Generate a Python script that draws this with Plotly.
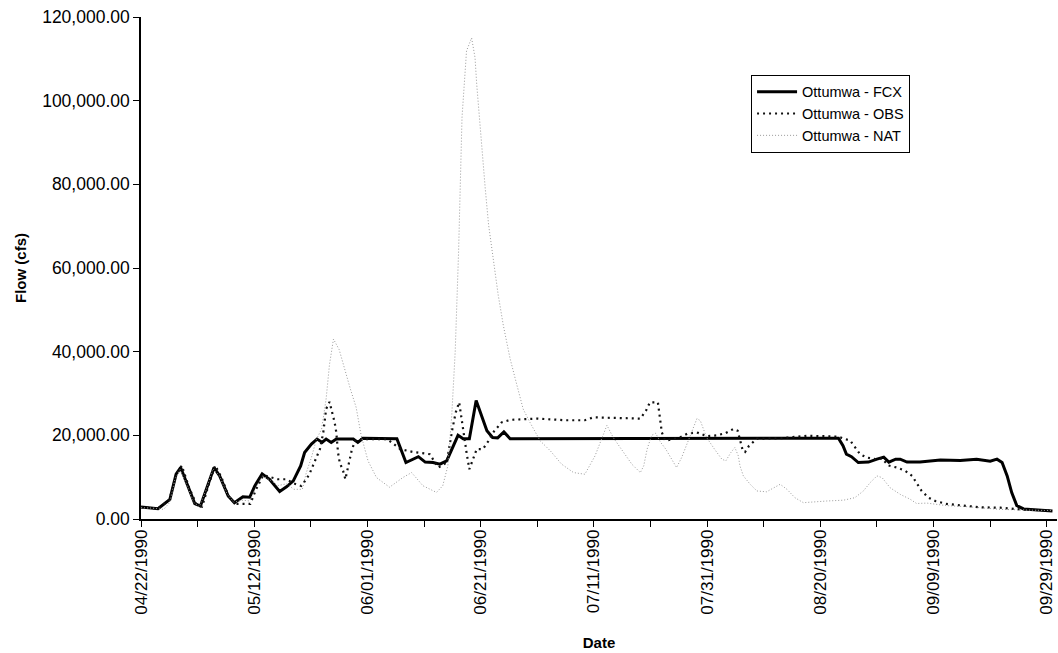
import pandas as pd
import plotly.graph_objects as go

start_date = "1990-04-22"

# Day offsets (from 04/22/1990) and flows (cfs)
fcx_days = [0, 3, 5.1, 6.2, 7, 8.3, 9.5, 10.5, 11.5, 12.9, 13.9, 15.4, 16.5, 18, 19.2, 20.1,
            21.4, 22.7, 24.5, 25.7, 26.9, 28.2, 28.9, 30.1, 31.1, 32, 32.7, 33.6, 34.5, 37.5,
            38.3, 39.2, 45.2, 46.8, 49, 50.2, 51.6, 52.8, 54, 55.2, 56, 56.9, 58, 59.2, 60.2,
            61.1, 62.1, 63, 64.1, 65.2, 123.2, 124, 124.6, 125.5, 126.7, 128.5, 130, 131.2,
            132.1, 133.3, 134.1, 135.3, 137.6, 141.2, 144.7, 147.6, 150, 151.2, 152.1, 153,
            153.8, 154.7, 155.9, 158.3, 161]
fcx_flow = [2900, 2450, 4700, 10700, 12300, 7700, 3700, 3100, 7100, 12300, 10300, 5500, 3900,
            5300, 5200, 7900, 10800, 9500, 6600, 7700, 9100, 12700, 15900, 17900, 19100, 18300,
            19100, 18300, 19100, 19100, 18300, 19300, 19200, 13500, 14900, 13600, 13500, 13100,
            13900, 17500, 20000, 19200, 19200, 28300, 24300, 21100, 19500, 19400, 20800, 19200,
            19300, 17500, 15500, 14900, 13500, 13600, 14300, 14800, 13600, 14300, 14300, 13600,
            13600, 14100, 14000, 14300, 13800, 14300, 13500, 10300, 6300, 3200, 2400, 2100, 1900]

obs_days = [0, 3, 5, 6.2, 7.2, 8.5, 9.8, 10.8, 11.8, 13.1, 14.2, 15.6, 16.8, 18.2, 19.3, 20.3,
            21.6, 22.8, 24.2, 25.7, 27, 28.3, 29.2, 29.8, 30.4, 31, 31.6, 32.2, 32.7, 33.3, 34.2,
            34.5, 34.8, 35.1, 35.7, 36.1, 36.7, 37.2, 37.8, 38.5, 43.5, 44.6, 45.8, 48.1, 51,
            52.5, 54, 55, 55.6, 56.2, 56.8, 57.5, 58, 58.7, 59.3, 60.4, 61.4, 62.2, 63.7, 65.2,
            70, 75, 78.4, 79.9, 84, 88.2, 89.2, 89.9, 91.3, 91.5, 91.7, 92, 92.6, 93.8, 95.2,
            96.5, 98.2, 99.9, 101.7, 103.2, 104.6, 105.4, 105.8, 106.3, 106.7, 107.4, 108.8,
            112.9, 117.6, 120, 123.1, 125.3, 126.1, 127, 128.2, 129.7, 130.9, 132, 133.5, 135,
            136.2, 137, 137.9, 139.1, 140.3, 142.3, 144.7, 148.2, 151.8, 155.3, 161]
obs_flow = [2800, 2500, 4500, 10500, 12800, 7500, 3500, 3000, 7500, 12800, 10000, 5000, 3600,
            3500, 3600, 7000, 10500, 10000, 9500, 9500, 8500, 7900, 9500, 10900, 12700, 14700,
            16700, 20700, 26300, 28000, 23100, 20700, 15900, 13500, 11500, 9500, 13000, 16300,
            18700, 19100, 19100, 17900, 16700, 16000, 15500, 12300, 13500, 21500, 25500, 27900,
            22000, 15900, 11900, 14300, 16700, 16700, 18700, 20700, 23100, 23700, 24000, 23600,
            23600, 24300, 24100, 24000, 25900, 27900, 27900, 25500, 23500, 20700, 18700, 19000,
            19500, 20400, 20700, 19800, 20000, 20500, 21500, 21100, 18700, 16300, 16000, 17500,
            19200, 19300, 19900, 19800, 19700, 18700, 17100, 15500, 14700, 14300, 14500, 12800,
            12300, 11500, 10300, 8700, 6700, 5100, 4300, 3600, 3200, 2800, 2700, 2300, 2000]

nat_days = [0, 2, 4, 5.1, 6, 6.9, 8, 9.3, 10.3, 11.5, 12.7, 13.8, 15.2, 16.4, 18, 19.2, 20.3,
            21.5, 22.8, 24.2, 25.7, 27, 28.5, 29.2, 30.1, 31, 31.9, 32.7, 33.3, 34, 35, 36, 37,
            38, 38.9, 40.1, 41.6, 43.9, 46.3, 47.8, 49.8, 52.2, 53.3, 54.2, 54.9, 55.5, 56.1,
            56.7, 57.5, 58.4, 59, 59.3, 59.9, 60.2, 60.8, 61.4, 62.2, 63.1, 64, 65.2, 66.4, 67.5,
            68.7, 70.5, 72.3, 74.3, 76.4, 78.4, 80.2, 81.2, 82.3, 83.4, 84.9, 86.7, 88.2, 88.8,
            89.4, 90.2, 90.9, 91.8, 92.7, 93.8, 94.6, 95.5, 96.4, 97.6, 98.2, 98.8, 99.9, 101.3,
            102.6, 103.3, 104.2, 104.9, 105.5, 105.8, 106.4, 107.6, 108.8, 110.5, 112.9, 114.1,
            115.5, 117, 118.8, 121.1, 124.1, 126.1, 127.6, 128.8, 130, 130.9, 132.3, 134.1,
            135.9, 137, 138.8, 142.3, 146.4, 151.8, 161]
nat_flow = [2700, 2600, 2300, 4000, 9500, 11800, 8500, 4000, 2900, 7000, 12000, 10500, 6000,
            4000, 4500, 4300, 7500, 10300, 9300, 8000, 8400, 7100, 7100, 11100, 14700, 19100,
            21500, 28700, 37000, 43000, 40500, 35500, 31000, 26700, 19900, 13900, 9900, 7600,
            9950, 11100, 7950, 6350, 7950, 12700, 25000, 40000, 64000, 95900, 111900, 115000,
            110300, 103900, 93500, 87900, 79100, 70300, 62300, 53500, 46300, 38300, 32000, 26300,
            23100, 18700, 16300, 13100, 11100, 10700, 15100, 18700, 22400, 19500, 16700, 13100,
            11100, 12700, 16700, 20000, 20500, 18300, 16700, 14300, 12300, 14700, 17900, 21900,
            24000, 23500, 19500, 16700, 14300, 13900, 15900, 17100, 15100, 12700, 10300, 8300,
            6700, 6500, 8300, 7100, 5100, 3900, 4000, 4300, 4500, 5100, 6700, 8700, 10300, 9900,
            7500, 5900, 4700, 3700, 3800, 3200, 2900, 2300, 2000]

x_tick_labels = ["04/22/1990", "05/12/1990", "06/01/1990", "06/21/1990", "07/11/1990",
                 "07/31/1990", "08/20/1990", "09/09/1990", "09/29/1990"]
y_tick_values = [0, 20000, 40000, 60000, 80000, 100000, 120000]

series_names = ["Ottumwa - FCX", "Ottumwa - OBS", "Ottumwa - NAT"]

t0 = pd.Timestamp(start_date)


def to_dates(days):
    return t0 + pd.to_timedelta(days, unit="D")


FONT = "Liberation Sans, Arial, Helvetica, sans-serif"

fig = go.Figure()
fig.add_trace(go.Scatter(x=to_dates(fcx_days), y=fcx_flow, mode="lines", name=series_names[0],
                         line=dict(color="black", width=3)))
fig.add_trace(go.Scatter(x=to_dates(obs_days), y=obs_flow, mode="lines", name=series_names[1],
                         line=dict(color="#111111", width=2.2, dash="2px,4px")))
fig.add_trace(go.Scatter(x=to_dates(nat_days), y=nat_flow, mode="lines", name=series_names[2],
                         line=dict(color="#9a9a9a", width=1, dash="1px,2px")))

tickvals = pd.to_datetime(x_tick_labels, format="%m/%d/%Y")
x_range = [t0, t0 + pd.Timedelta(days=161.8)]
DAY_MS = 86400000

fig.update_layout(
    width=1058, height=653,
    margin=dict(l=141, r=1, t=17, b=134),
    paper_bgcolor="white", plot_bgcolor="white",
    font=dict(family=FONT, size=16, color="black"),
    showlegend=True,
    legend=dict(x=0.666, y=0.885, xanchor="left", yanchor="top",
                bordercolor="black", borderwidth=1, bgcolor="white",
                font=dict(family=FONT, size=14.5, color="black"),
                tracegroupgap=0, itemwidth=40),
    xaxis=dict(range=x_range, type="date", tickvals=tickvals, ticktext=x_tick_labels,
               tickangle=-90, ticks="outside", ticklen=6, tickwidth=1, tickcolor="black",
               minor=dict(ticks="outside", ticklen=6, tickwidth=1, tickcolor="black",
                          tick0=start_date, dtick=10 * DAY_MS),
               showline=True, linecolor="black", linewidth=1.5, showgrid=False,
               zeroline=False, tickfont=dict(family=FONT, size=17), automargin=False,
               ticklabelstandoff=-4,
               title=dict(text="<b>Date</b>", font=dict(family=FONT, size=15), standoff=24)),
    yaxis=dict(range=[0, 120000], tickvals=y_tick_values, tickformat=",.2f",
               ticks="outside", ticklen=6, tickwidth=1, tickcolor="black",
               showline=True, linecolor="black", linewidth=1.5, showgrid=False,
               zeroline=False, tickfont=dict(family=FONT, size=17.5), automargin=False,
               title=dict(text="<b>Flow (cfs)</b>", font=dict(family=FONT, size=15), standoff=12)),
    xaxis2=dict(range=x_range, type="date", overlaying="x", tickvals=tickvals,
                showticklabels=False, ticks="inside", ticklen=6, tickwidth=1, tickcolor="black",
                minor=dict(ticks="inside", ticklen=6, tickwidth=1, tickcolor="black",
                           tick0=start_date, dtick=10 * DAY_MS),
                showline=False, showgrid=False, zeroline=False, automargin=False),
    yaxis2=dict(range=[0, 120000], overlaying="y", tickvals=y_tick_values,
                showticklabels=False, ticks="inside", ticklen=6, tickwidth=1, tickcolor="black",
                showline=False, showgrid=False, zeroline=False, automargin=False),
)

fig.write_html("out.html", config={"displayModeBar": False},
               post_script="document.body.style.margin='0px';document.body.style.padding='0px';")
